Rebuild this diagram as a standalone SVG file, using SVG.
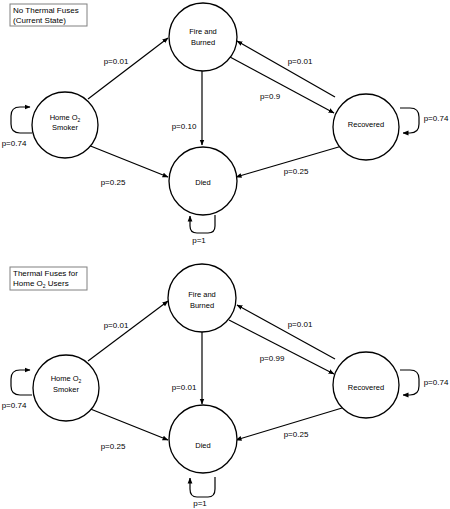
<svg xmlns="http://www.w3.org/2000/svg" width="450" height="509" viewBox="0 0 450 509">
<style>
.bg{fill:#fff}
.node{fill:#fff;stroke:#000;stroke-width:1.3}
.box{fill:#fff;stroke:#808080;stroke-width:1}
.edge{fill:none;stroke:#000;stroke-width:1.2;marker-end:url(#ah)}
text{font-family:"Liberation Sans",Arial,sans-serif;fill:#000}
.nt{font-size:7.5px;text-anchor:middle}
.lb{font-size:8px;text-anchor:middle}
.tt{font-size:8px}
</style>
<defs>
<marker id="ah" markerUnits="userSpaceOnUse" markerWidth="6" markerHeight="6" viewBox="0 0 6 6" refX="5.5" refY="3" orient="auto">
<path d="M0,0.6 L6,3 L0,5.4 Z" fill="#000"/>
</marker>
</defs>
<rect class="bg" x="0" y="0" width="450" height="509"/>

<!-- Top panel -->
<g id="title-top">
<rect class="box" x="10" y="4" width="77" height="22"/>
<text class="tt" x="13" y="13">No Thermal Fuses</text>
<text class="tt" x="13" y="23">(Current State)</text>
</g>
<g id="connectors-top">
<path class="edge" d="M88,99 L168,38"/>
<path class="edge" d="M202,71 L202,145"/>
<path class="edge" d="M88,145 L168,177"/>
<path class="edge" d="M230,57 L334,113"/>
<path class="edge" d="M335,97 L237,41"/>
<path class="edge" d="M342,146 L236,177"/>
<path class="edge" d="M32,133 H20 Q11,133 11,124 V116 Q11,107 20,107 H30"/>
<path class="edge" d="M400,108 H410 Q419,108 419,117 V124 Q419,133 410,133 H403"/>
<path class="edge" d="M215,215 V226 Q215,233 208,233 H197 Q190,233 190,226 V216"/>
</g>
<g id="fire-top"><circle class="node" cx="203" cy="37" r="34"/><text class="nt" x="203" y="34">Fire and</text><text class="nt" x="203" y="45">Burned</text></g>
<g id="home-top"><circle class="node" cx="65" cy="125" r="33"/><text class="nt" x="65" y="120">Home O<tspan font-size="5" dy="1.5">2</tspan></text><text class="nt" x="65" y="130">Smoker</text></g>
<g id="died-top"><circle class="node" cx="203" cy="181" r="34"/><text class="nt" x="203" y="185">Died</text></g>
<g id="recovered-top"><circle class="node" cx="366" cy="127" r="33"/><text class="nt" x="366" y="127">Recovered</text></g>
<g id="labels-top">
<text class="lb" x="116" y="64">p=0.01</text>
<text class="lb" x="184" y="129">p=0.10</text>
<text class="lb" x="113" y="185">p=0.25</text>
<text class="lb" x="270" y="99">p=0.9</text>
<text class="lb" x="300" y="64">p=0.01</text>
<text class="lb" x="296" y="174">p=0.25</text>
<text class="lb" x="14" y="146">p=0.74</text>
<text class="lb" x="436" y="121">p=0.74</text>
<text class="lb" x="199" y="243">p=1</text>
</g>

<!-- Bottom panel -->
<g id="title-bottom">
<rect class="box" x="10" y="267" width="77" height="23"/>
<text class="tt" x="13" y="276">Thermal Fuses for</text>
<text class="tt" x="13" y="286">Home O<tspan font-size="5" dy="1.5">2</tspan><tspan dy="-1.5"> Users</tspan></text>
</g>
<g id="connectors-bottom">
<path class="edge" d="M88,361 L168,301"/>
<path class="edge" d="M202,332 L202,404"/>
<path class="edge" d="M88,408 L168,440"/>
<path class="edge" d="M229,320 L334,374"/>
<path class="edge" d="M335,359 L237,305"/>
<path class="edge" d="M342,408 L236,440"/>
<path class="edge" d="M32,395 H20 Q11,395 11,386 V379 Q11,370 20,370 H30"/>
<path class="edge" d="M400,370 H410 Q419,370 419,379 V386 Q419,395 410,395 H403"/>
<path class="edge" d="M215,477 V489 Q215,497 208,497 H197 Q190,497 190,489 V478"/>
</g>
<g id="fire-bottom"><circle class="node" cx="202" cy="298" r="34"/><text class="nt" x="202" y="297">Fire and</text><text class="nt" x="202" y="308">Burned</text></g>
<g id="home-bottom"><circle class="node" cx="66" cy="388" r="33"/><text class="nt" x="66" y="381">Home O<tspan font-size="5" dy="1.5">2</tspan></text><text class="nt" x="66" y="392">Smoker</text></g>
<g id="died-bottom"><circle class="node" cx="203" cy="439" r="34"/><text class="nt" x="203" y="448">Died</text></g>
<g id="recovered-bottom"><circle class="node" cx="366" cy="385" r="33"/><text class="nt" x="366" y="390">Recovered</text></g>
<g id="labels-bottom">
<text class="lb" x="116" y="328">p=0.01</text>
<text class="lb" x="184" y="390">p=0.01</text>
<text class="lb" x="113" y="449">p=0.25</text>
<text class="lb" x="272" y="361">p=0.99</text>
<text class="lb" x="300" y="327">p=0.01</text>
<text class="lb" x="296" y="437">p=0.25</text>
<text class="lb" x="14" y="408">p=0.74</text>
<text class="lb" x="436" y="385">p=0.74</text>
<text class="lb" x="200" y="506">p=1</text>
</g>
</svg>
